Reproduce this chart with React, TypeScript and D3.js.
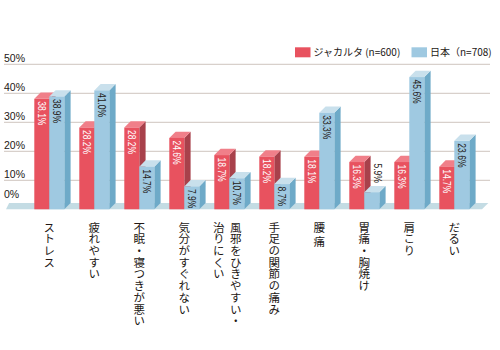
import React from 'react';
import * as d3 from 'd3';

const categories = ['ストレス', '疲れやすい', '不眠・寝つきが悪い', '気分がすぐれない', '風邪をひきやすい・治りにくい', '手足の関節の痛み', '腰痛', '胃痛・胸焼け', '肩こり', 'だるい'];
const categoryLines = [['ストレス'], ['疲れやすい'], ['不眠・寝つきが悪い'], ['気分がすぐれない'], ['風邪をひきやすい・', '治りにくい'], ['手足の関節の痛み'], ['腰 痛'], ['胃痛・胸焼け'], ['肩こり'], ['だるい']];
const jakarta = [38.1, 28.2, 28.2, 24.6, 18.7, 18.2, 18.1, 16.3, 16.3, 14.7];
const japan = [38.9, 41.0, 14.7, 7.9, 10.7, 8.7, 33.3, 5.9, 45.6, 23.6];
const seriesNames = ['ジャカルタ (n=600)', '日本（n=708)'];
const yTicks = [0, 10, 20, 30, 40, 50];

const W = 500, H = 350;
const D = 6.3; // 3D depth
const INK = '#231815';
const palettes = [
  { front: '#e8525f', top: '#f07f89', side: '#a8414b', text: '#ffffff' },
  { front: '#9fc9e1', top: '#c9e0ec', side: '#6eaac8', text: INK },
];
const numFont = '"Liberation Sans", Arial, sans-serif';
const jpFont = '"Noto Sans CJK JP", "Noto Sans", sans-serif';

export default function App() {
  const x = d3.scaleBand<string>().domain(categories).range([19.3, 484.3]).paddingInner(1 / 3).paddingOuter(1 / 3);
  const xs = d3.scaleBand<number>().domain([0, 1]).range([0, x.bandwidth()]);
  const y = d3.scaleLinear().domain([0, 50]).range([209.3, 64.3]);
  const y0 = y(0);
  const series = [jakarta, japan];

  const bars: React.ReactNode[] = [];
  const labels: React.ReactNode[] = [];
  categories.forEach((c, i) => {
    series.forEach((vals, s) => {
      const v = vals[i];
      const p = palettes[s];
      const xl = (x(c) as number) + (xs(s) as number);
      const xr = xl + xs.bandwidth();
      const yt = y(v);
      bars.push(
        <g key={`b${i}-${s}`}>
          <polygon points={`${xr},${yt} ${xr + D},${yt - D} ${xr + D},${y0 - D} ${xr},${y0}`} fill={p.side} />
          <polygon points={`${xl},${yt} ${xl + D},${yt - D} ${xr + D},${yt - D} ${xr},${yt}`} fill={p.top} />
          <rect x={xl} y={yt} width={xr - xl} height={y0 - yt} fill={p.front} />
        </g>
      );
      const cx = (xl + xr) / 2;
      const txt = `${v.toFixed(1)}%`;
      const inside = y0 - yt > 20;
      if (inside) {
        labels.push(
          <text key={`l${i}-${s}`} transform={`translate(${cx},${yt + 2.5}) rotate(90) scale(0.76,1)`} dominantBaseline="central" textAnchor="start"
            fontFamily={numFont} fontSize={11.2} fill={p.text}>{txt}</text>
        );
      } else {
        labels.push(
          <text key={`l${i}-${s}`} transform={`translate(${cx + D},${yt - D - 3}) rotate(90) scale(0.76,1)`} dominantBaseline="central" textAnchor="end"
            fontFamily={numFont} fontSize={11.2} fill={INK}>{txt}</text>
        );
      }
    });
  });

  return (
    <svg width={W} height={H} style={{ position: 'absolute', left: 0, top: 0 }}>
      <rect width={W} height={H} fill="#ffffff" />
      {yTicks.filter(t => t > 0).map(t => (
        <line key={t} x1={4} x2={490} y1={y(t)} y2={y(t)} stroke="#d8d0cb" strokeWidth={1.3} />
      ))}
      {yTicks.map(t => (
        <text key={t} x={4} y={t === 0 ? y(t) - 11.5 : y(t) - 2.5} fontFamily="Arial, 'Liberation Sans', sans-serif" fontSize={10.5} fill={INK}>{`${t}%`}</text>
      ))}
      <polygon points={`6,${y0} 482,${y0} ${482 + D},${y0 - D} ${6 + D / 2},${y0 - D}`} fill="#c4dce4" />
      {bars}
      {labels}
      {categories.map((c, i) => {
        const cx = (x(c) as number) + x.bandwidth() / 2;
        const lines = categoryLines[i];
        const n = lines.length;
        return lines.map((ln, k) => (
          <text key={`c${i}-${k}`} x={cx + ((n - 1) / 2 - k) * 17 - (n > 1 ? 2 : 0)} y={221.5}
            style={{ writingMode: 'vertical-rl' }} fontFamily={jpFont} fontSize={11.5} letterSpacing={0.2} fill={INK}>{ln}</text>
        ));
      })}
      {seriesNames.map((nm, s) => {
        const lx = s === 0 ? 295 : 411.5;
        return (
          <g key={nm}>
            <rect x={lx} y={47.3} width={15.5} height={10} fill={palettes[s].front} />
            <text x={lx + 18.5} y={56.3} fontFamily={jpFont} fontSize={10} fill={INK}>{nm}</text>
          </g>
        );
      })}
    </svg>
  );
}
